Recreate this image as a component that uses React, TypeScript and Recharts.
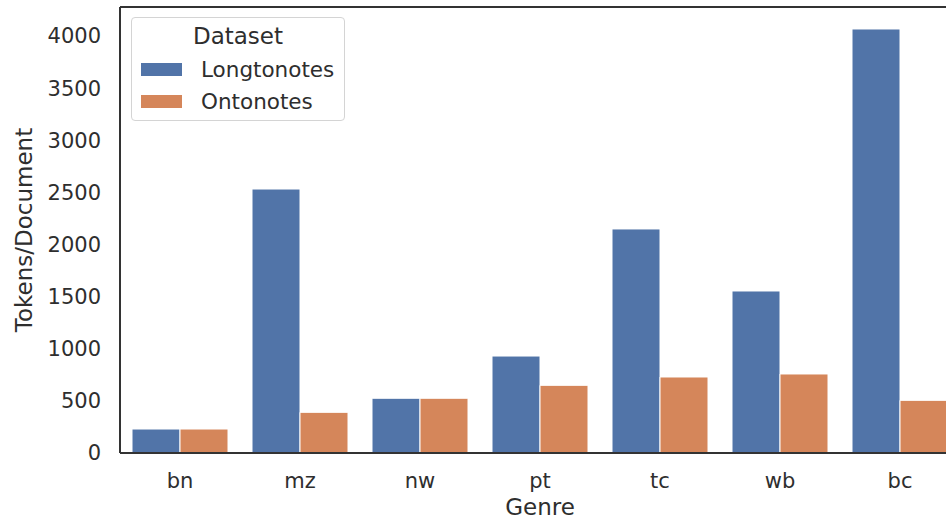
import React from "react";
import { BarChart, Bar, XAxis, YAxis, Legend, ReferenceLine } from "recharts";

const genres = ["bn", "mz", "nw", "pt", "tc", "wb", "bc"];
const longtonotes = [230, 2532, 525, 930, 2149, 1554, 4067];
const ontonotes = [230, 390, 525, 649, 729, 758, 505];
const yTicks = [0, 500, 1000, 1500, 2000, 2500, 3000, 3500, 4000];
const yMax = 4278;

const data = genres.map((g, i) => ({ genre: g, Longtonotes: longtonotes[i], Ontonotes: ontonotes[i] }));

const BLUE = "#5174A8";
const ORANGE = "#D5865A";
const TEXT = "#2e2e2e";
const FONT = "'DejaVu Sans', sans-serif";

const LegendBox = () => (
  <div
    style={{
      width: 212,
      height: 102,
      border: "1px solid #d4d4d4",
      borderRadius: 4,
      background: "#fff",
      fontFamily: FONT,
      fontSize: 21.5,
      color: TEXT,
      position: "relative",
    }}
  >
    <div style={{ position: "absolute", left: 0, width: 212, top: 5, textAlign: "center", lineHeight: "26px", fontSize: 23 }}>Dataset</div>
    {[
      { name: "Longtonotes", color: BLUE, top: 39 },
      { name: "Ontonotes", color: ORANGE, top: 71 },
    ].map((e) => (
      <React.Fragment key={e.name}>
        <div style={{ position: "absolute", left: 9, top: e.top + 6, width: 41, height: 13, background: e.color }} />
        <div style={{ position: "absolute", left: 69, top: e.top, lineHeight: "26px" }}>{e.name}</div>
      </React.Fragment>
    ))}
  </div>
);

export default function App() {
  return (
    <div style={{ position: "absolute", left: 0, top: 0, width: 946, height: 520, overflow: "hidden", background: "#fff" }}>
      <BarChart
        width={980}
        height={520}
        data={data}
        margin={{ top: 7, right: 20, left: 0, bottom: 0 }}
        barCategoryGap="10%"
        barGap={0}
      >
        <XAxis
          dataKey="genre"
          height={67}
          tickLine={false}
          tickSize={0}
          tickMargin={20}
          axisLine={{ stroke: "#333", strokeWidth: 2 }}
          tick={{ fill: TEXT, fontSize: 21, fontFamily: FONT }}
          label={{ value: "Genre", position: "insideBottom", offset: 5, fill: TEXT, fontSize: 23, fontFamily: FONT }}
        />
        <YAxis
          width={120}
          domain={[0, yMax]}
          ticks={yTicks}
          tickLine={false}
          tickSize={0}
          tickMargin={19}
          axisLine={{ stroke: "#333", strokeWidth: 2 }}
          tick={{ fill: TEXT, fontSize: 21, fontFamily: FONT }}
          label={{
            value: "Tokens/Document",
            angle: -90,
            position: "insideLeft",
            offset: 24,
            fill: TEXT,
            fontSize: 23,
            fontFamily: FONT,
            style: { textAnchor: "middle" },
          }}
        />
        <ReferenceLine y={yMax} stroke="#333" strokeWidth={2} />
        <Legend
          layout="horizontal"
          verticalAlign="middle"
          align="center"
          content={() => <LegendBox />}
          wrapperStyle={{ left: 131, top: 17, width: 214, height: 104 }}
        />
        <Bar dataKey="Longtonotes" fill={BLUE} stroke="#fff" strokeWidth={1} isAnimationActive={false} />
        <Bar dataKey="Ontonotes" fill={ORANGE} stroke="#fff" strokeWidth={1} isAnimationActive={false} />
      </BarChart>
    </div>
  );
}
